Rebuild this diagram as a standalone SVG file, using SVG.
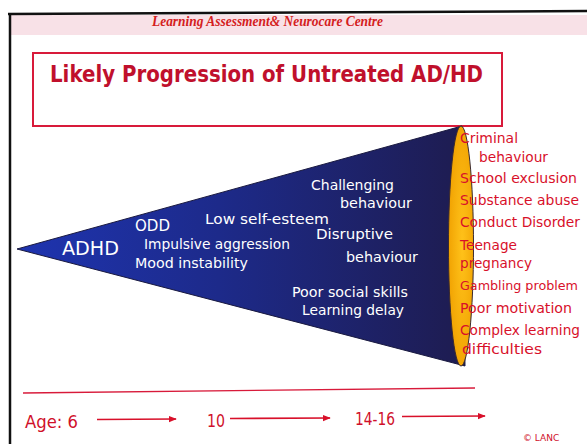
<svg xmlns="http://www.w3.org/2000/svg" width="587" height="444" viewBox="0 0 587 444">
<defs>
<style>
.banner{font-family:"Liberation Serif",serif;font-style:italic;font-weight:bold;font-size:14px;fill:#d42020}
.title{font-family:"DejaVu Sans","Open Sans",sans-serif;font-weight:bold;font-size:23px;fill:#c0102c}
.w{font-family:"DejaVu Sans","Open Sans",sans-serif;font-size:14px;fill:#ffffff}
.r{font-family:"DejaVu Sans","Open Sans",sans-serif;font-size:14.5px;fill:#d8102a}
.age{font-family:"DejaVu Sans","Open Sans",sans-serif;font-size:18px;fill:#d0102a}
.arrow{stroke:#d8102a;stroke-width:1.6;fill:none;marker-end:url(#ah)}
</style>
<marker id="ah" viewBox="0 0 10 10" refX="9" refY="5" markerWidth="5" markerHeight="5" orient="auto" markerUnits="strokeWidth">
<path d="M0,1 L10,5 L0,9 Z" fill="#d8102a"/>
</marker>
<linearGradient id="coneG" x1="0" y1="0" x2="1" y2="0">
<stop offset="0" stop-color="#1e34b0"/>
<stop offset="0.45" stop-color="#1d2a8a"/>
<stop offset="1" stop-color="#1e1c50"/>
</linearGradient>
<radialGradient id="mouthG" cx="0.55" cy="0.5" r="0.6">
<stop offset="0" stop-color="#ffc21a"/>
<stop offset="1" stop-color="#f0a000"/>
</radialGradient>
</defs>
<rect width="587" height="444" fill="#ffffff"/>

<g id="frame">
<rect x="10" y="15" width="577" height="20" fill="#f8e1e7"/>
<line x1="8" y1="14" x2="587" y2="11" stroke="#111" stroke-width="2.5"/>
<line x1="10" y1="13" x2="10" y2="444" stroke="#111" stroke-width="2.5"/>
<text class="banner" x="152" y="26" textLength="231" lengthAdjust="spacingAndGlyphs">Learning Assessment&amp; Neurocare Centre</text>
</g>

<g id="title">
<rect x="33" y="53" width="469" height="73" fill="none" stroke="#d81a3a" stroke-width="2"/>
<text class="title" x="50" y="82" textLength="433" lengthAdjust="spacingAndGlyphs">Likely Progression of Untreated AD/HD</text>
</g>

<g id="cone">
<path d="M17,249 L462,126 L465,366 Z" fill="url(#coneG)" stroke="#1a1a40" stroke-width="1"/>
<ellipse cx="461" cy="246" rx="12.5" ry="120" fill="url(#mouthG)" stroke="#3a2a30" stroke-width="1"/>
</g>

<g id="early">
<text class="w" x="62" y="255" style="font-size:19px" textLength="57" lengthAdjust="spacingAndGlyphs">ADHD</text>
<text class="w" x="135" y="231" style="font-size:15px" textLength="35" lengthAdjust="spacingAndGlyphs">ODD</text>
<text class="w" x="144" y="249" textLength="146" lengthAdjust="spacingAndGlyphs">Impulsive aggression</text>
<text class="w" x="135" y="268" textLength="113" lengthAdjust="spacingAndGlyphs">Mood instability</text>
</g>

<g id="middle">
<text class="w" x="205" y="224" textLength="124" lengthAdjust="spacingAndGlyphs">Low self-esteem</text>
<text class="w" x="311" y="190" textLength="83" lengthAdjust="spacingAndGlyphs">Challenging</text>
<text class="w" x="340" y="208" textLength="72" lengthAdjust="spacingAndGlyphs">behaviour</text>
<text class="w" x="316" y="239" textLength="77" lengthAdjust="spacingAndGlyphs">Disruptive</text>
<text class="w" x="346" y="262" textLength="72" lengthAdjust="spacingAndGlyphs">behaviour</text>
<text class="w" x="292" y="297" textLength="116" lengthAdjust="spacingAndGlyphs">Poor social skills</text>
<text class="w" x="302" y="315" textLength="102" lengthAdjust="spacingAndGlyphs">Learning delay</text>
</g>

<g id="outcomes">
<text class="r" x="460" y="143" textLength="58" lengthAdjust="spacingAndGlyphs">Criminal</text>
<text class="r" x="479" y="162" textLength="69" lengthAdjust="spacingAndGlyphs">behaviour</text>
<text class="r" x="460" y="183" textLength="117" lengthAdjust="spacingAndGlyphs">School exclusion</text>
<text class="r" x="460" y="205" textLength="119" lengthAdjust="spacingAndGlyphs">Substance abuse</text>
<text class="r" x="460" y="227" textLength="120" lengthAdjust="spacingAndGlyphs">Conduct Disorder</text>
<text class="r" x="460" y="250" textLength="57" lengthAdjust="spacingAndGlyphs">Teenage</text>
<text class="r" x="460" y="268" textLength="72" lengthAdjust="spacingAndGlyphs">pregnancy</text>
<text class="r" x="460" y="290" style="font-size:13px" textLength="118" lengthAdjust="spacingAndGlyphs">Gambling problem</text>
<text class="r" x="460" y="313" textLength="112" lengthAdjust="spacingAndGlyphs">Poor motivation</text>
<text class="r" x="460" y="335" textLength="120" lengthAdjust="spacingAndGlyphs">Complex learning</text>
<text class="r" x="462" y="354" textLength="80" lengthAdjust="spacingAndGlyphs">difficulties</text>
</g>

<g id="timeline">
<line x1="23" y1="393" x2="475" y2="388" stroke="#d81a3a" stroke-width="1.3"/>
<text class="age" x="25" y="428" textLength="53" lengthAdjust="spacingAndGlyphs">Age:  6</text>
<text class="age" x="207" y="427" textLength="18" lengthAdjust="spacingAndGlyphs">10</text>
<text class="age" x="355" y="425" textLength="40" lengthAdjust="spacingAndGlyphs">14-16</text>
<text x="523" y="441" font-family="DejaVu Sans, sans-serif" font-size="9" fill="#d0102a">© LANC</text>
</g>

<g id="connectors">
<line class="arrow" x1="97" y1="419.5" x2="176" y2="419"/>
<line class="arrow" x1="230" y1="418.5" x2="330" y2="418"/>
<line class="arrow" x1="402" y1="416.5" x2="485" y2="416"/>
</g>
</svg>
